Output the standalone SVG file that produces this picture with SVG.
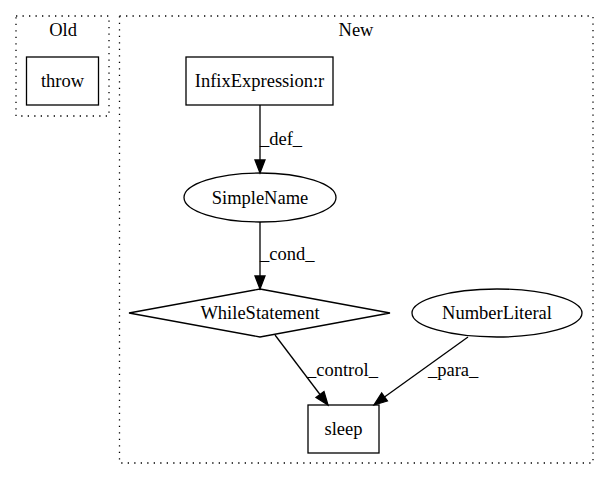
<svg xmlns="http://www.w3.org/2000/svg" width="609" height="480" viewBox="0 0 609 480">
<style>
text { font-family: "Liberation Serif", "Times New Roman", serif; font-size: 18.5px; fill: #000; }
.cluster { fill: none; stroke: #000; stroke-width: 1.3; stroke-dasharray: 1.3,5.2; }
.node { fill: none; stroke: #000; stroke-width: 1.3; }
.edge { fill: none; stroke: #000; stroke-width: 1.3; }
.head { fill: #000; stroke: #000; stroke-width: 1.3; }
</style>
<rect width="609" height="480" fill="#fff"/>
<g id="cluster_old">
<rect class="cluster" x="16" y="16" width="93" height="100"/>
<text x="63" y="36" text-anchor="middle">Old</text>
</g>
<g id="cluster_new">
<rect class="cluster" x="119.5" y="16" width="473.5" height="447"/>
<text x="356" y="36" text-anchor="middle">New</text>
</g>
<g id="throw">
<rect class="node" x="26.5" y="57" width="72" height="48"/>
<text x="62.5" y="87" text-anchor="middle">throw</text>
</g>
<g id="infix">
<rect class="node" x="186" y="57" width="147" height="48"/>
<text x="259.5" y="87" text-anchor="middle">InfixExpression:r</text>
</g>
<g id="simplename">
<ellipse class="node" cx="260" cy="197.5" rx="76" ry="24.5"/>
<text x="260" y="203.5" text-anchor="middle">SimpleName</text>
</g>
<g id="while">
<polygon class="node" points="260,289 390,313 260,337 129,313"/>
<text x="260" y="319" text-anchor="middle">WhileStatement</text>
</g>
<g id="numberliteral">
<ellipse class="node" cx="497" cy="313" rx="85" ry="24"/>
<text x="497" y="319" text-anchor="middle">NumberLiteral</text>
</g>
<g id="sleep">
<rect class="node" x="308" y="405" width="71" height="48"/>
<text x="343.5" y="435" text-anchor="middle">sleep</text>
</g>
<g id="connectors">
<line class="edge" x1="260" y1="105" x2="260" y2="160"/>
<polygon class="head" points="255,160 260,173 265,160"/>
<text x="260" y="145">_def_</text>
<line class="edge" x1="260" y1="222" x2="260" y2="276"/>
<polygon class="head" points="255,276 260,289 265,276"/>
<text x="260" y="260">_cond_</text>
<line class="edge" x1="275" y1="335" x2="320" y2="394.5"/>
<polygon class="head" points="316,397.5 328,405 324,391.5"/>
<text x="307" y="376">_control_</text>
<line class="edge" x1="468" y1="337" x2="384.5" y2="397"/>
<polygon class="head" points="381.6,393 374,405 387.4,401"/>
<text x="428" y="376">_para_</text>
</g>
</svg>
